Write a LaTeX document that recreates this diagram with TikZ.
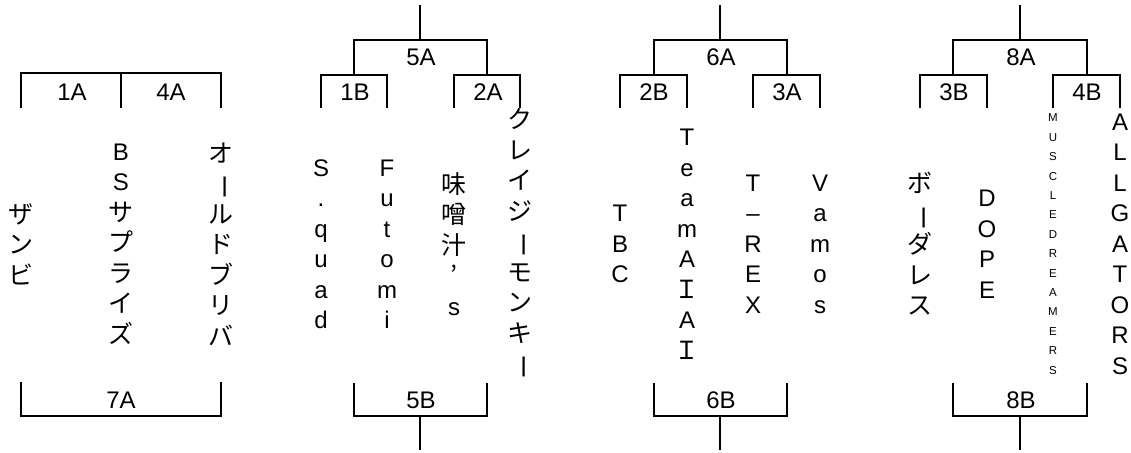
\documentclass[tikz,border=0pt]{standalone}
\usepackage{fontspec}
\setmainfont{Liberation Sans}
\newfontfamily\jp[Scale=1.04]{Noto Sans CJK JP}
\usepackage{tikz}
\tikzstyle{team} = [inner sep=0pt, align=center, font=\fontsize{24}{30.5}\selectfont]
\tikzstyle{smallteam} = [inner sep=0pt, align=center, font=\fontsize{11.5}{19.4}\selectfont]
\tikzstyle{match} = [inner sep=0pt, font=\fontsize{24}{24}\selectfont]
\tikzstyle{bracket} = [line width=1.6pt, line join=miter]
\newcommand{\kana}[1]{{\jp #1}}
\newcommand{\tatebo}{\rotatebox[origin=c]{-90}{\kana{ー}}}

\begin{document}
\begin{tikzpicture}[x=1pt,y=-1pt]
\path[use as bounding box, fill=white] (0,0) rectangle (1131,452);

% block 1
\draw[bracket] (21,108) -- (21,73) -- (221,73) -- (221,108);
\draw[bracket] (121,73) -- (121,108);
\draw[bracket] (21,382) -- (21,416) -- (221,416) -- (221,382);
\node (m1a) [match] at (72,92) {1A};
\node (m4a) [match] at (171,92) {4A};
\node (m7a) [match] at (121,400) {7A};
\node (zanbi) [team] at (21,244) {\kana{ザ}\\\kana{ン}\\\kana{ビ}};
\node (bssurprise) [team] at (121,244) {B\\S\\\kana{サ}\\\kana{プ}\\\kana{ラ}\\\kana{イ}\\\kana{ズ}};
\node (oldbriba) [team] at (221,244) {\kana{オ}\\\tatebo\\\kana{ル}\\\kana{ド}\\\kana{ブ}\\\kana{リ}\\\kana{バ}};

% block 2
\draw[bracket] (420,5) -- (420,40);
\draw[bracket] (354,75) -- (354,40) -- (487,40) -- (487,75);
\draw[bracket] (321,108) -- (321,75) -- (387,75) -- (387,108);
\draw[bracket] (454,108) -- (454,75) -- (520,75) -- (520,108);
\draw[bracket] (354,383) -- (354,416) -- (487,416) -- (487,383);
\draw[bracket] (420,416) -- (420,450);
\node (m5a) [match] at (421,57) {5A};
\node (m1b) [match] at (355,92) {1B};
\node (m2a) [match] at (488,92) {2A};
\node (m5b) [match] at (421,400) {5B};
\node (squad) [team] at (321,244) {S\\.\\q\\u\\a\\d};
\node (futomi) [team] at (387,244) {F\\u\\t\\o\\m\\i};
\node (misoshiru) [team] at (454,244) {\kana{味}\\\kana{噌}\\\kana{汁}\\\kana{’}\\s};
\node (crazymonkey) [team] at (520,244) {\kana{ク}\\\kana{レ}\\\kana{イ}\\\kana{ジ}\\\tatebo\\\kana{モ}\\\kana{ン}\\\kana{キ}\\\tatebo};

% block 3
\draw[bracket] (720,5) -- (720,40);
\draw[bracket] (654,75) -- (654,40) -- (787,40) -- (787,75);
\draw[bracket] (620,108) -- (620,75) -- (687,75) -- (687,108);
\draw[bracket] (753,108) -- (753,75) -- (820,75) -- (820,108);
\draw[bracket] (654,383) -- (654,416) -- (787,416) -- (787,383);
\draw[bracket] (720,416) -- (720,450);
\node (m6a) [match] at (721,57) {6A};
\node (m2b) [match] at (654,92) {2B};
\node (m3a) [match] at (787,92) {3A};
\node (m6b) [match] at (721,400) {6B};
\node (tbc) [team] at (620,244) {T\\B\\C};
\node (teamaiai) [team] at (687,244) {T\\e\\a\\m\\A\\\kana{Ｉ}\\A\\\kana{Ｉ}};
\node (trex) [team] at (753,244) {T\\\textendash\\R\\E\\X};
\node (vamos) [team] at (820,244) {V\\a\\m\\o\\s};

% block 4
\draw[bracket] (1020,5) -- (1020,40);
\draw[bracket] (953,75) -- (953,40) -- (1087,40) -- (1087,75);
\draw[bracket] (920,108) -- (920,75) -- (987,75) -- (987,108);
\draw[bracket] (1053,108) -- (1053,75) -- (1120,75) -- (1120,108);
\draw[bracket] (953,383) -- (953,416) -- (1087,416) -- (1087,383);
\draw[bracket] (1020,416) -- (1020,450);
\node (m8a) [match] at (1021,57) {8A};
\node (m3b) [match] at (954,92) {3B};
\node (m4b) [match] at (1087,92) {4B};
\node (m8b) [match] at (1021,400) {8B};
\node (borderless) [team] at (920,244) {\kana{ボ}\\\tatebo\\\kana{ダ}\\\kana{レ}\\\kana{ス}};
\node (dope) [team] at (987,244) {D\\O\\P\\E};
\node (muscle) [smallteam] at (1053,244) {M\\U\\S\\C\\L\\E\\D\\R\\E\\A\\M\\E\\R\\S};
\node (allgators) [team] at (1120,244) {A\\L\\L\\G\\A\\T\\O\\R\\S};
\end{tikzpicture}
\end{document}
